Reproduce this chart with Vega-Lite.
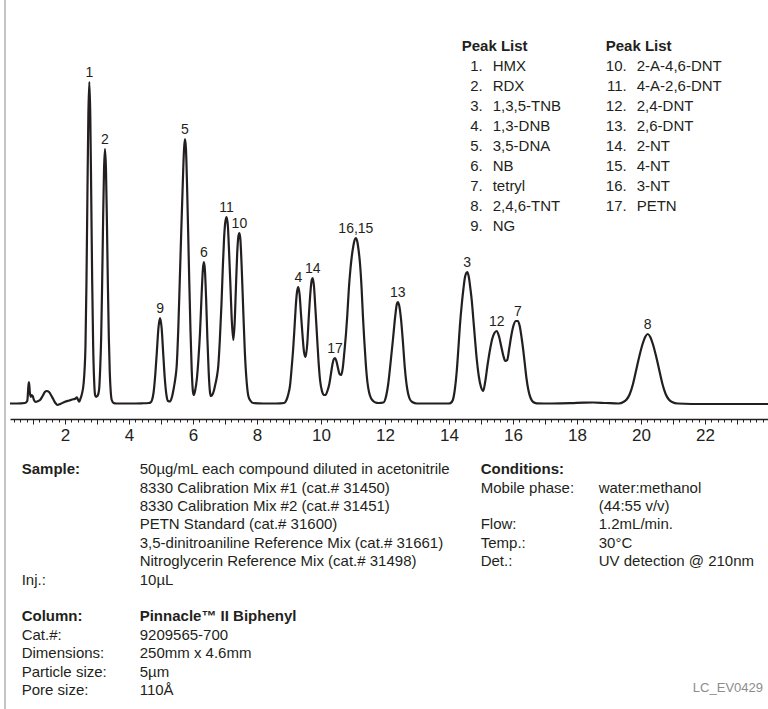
{
  "$schema": "https://vega.github.io/schema/vega-lite/v6.json",
  "autosize": "none",
  "width": 758,
  "height": 709,
  "padding": {"left": 10, "top": 0, "right": 0, "bottom": 0},
  "background": "white",
  "config": {
    "view": {"stroke": null},
    "text": {"font": "Liberation Sans, Arial, sans-serif", "color": "#231f20"}
  },
  "datasets": {
    "trace": [
      {"t":0.28,"v":0.5},{"t":0.5,"v":0.5},{"t":0.75,"v":1},{"t":0.82,"v":3},{"t":0.86,"v":19},{"t":0.875,"v":22},{"t":0.9,"v":12},{"t":0.93,"v":7},{"t":0.96,"v":9},{"t":0.99,"v":8},{"t":1.03,"v":4},{"t":1.09,"v":2},{"t":1.16,"v":3},{"t":1.22,"v":4},{"t":1.3,"v":8},{"t":1.37,"v":12},{"t":1.43,"v":13},{"t":1.5,"v":12},{"t":1.56,"v":9},{"t":1.63,"v":5},{"t":1.7,"v":1},{"t":1.76,"v":-1},{"t":1.85,"v":0},{"t":2.0,"v":2.3},{"t":2.13,"v":3.5},{"t":2.26,"v":4.7},{"t":2.33,"v":5.5},{"t":2.37,"v":6.7},{"t":2.41,"v":4},{"t":2.44,"v":2.3},{"t":2.48,"v":5},{"t":2.52,"v":9},{"t":2.58,"v":20},{"t":2.64,"v":58},{"t":2.67,"v":120},{"t":2.7,"v":207},{"t":2.73,"v":289},{"t":2.76,"v":322},{"t":2.79,"v":289},{"t":2.82,"v":207},{"t":2.85,"v":122},{"t":2.88,"v":58},{"t":2.91,"v":24},{"t":2.94,"v":9},{"t":2.97,"v":7},{"t":3.01,"v":8},{"t":3.04,"v":10},{"t":3.07,"v":16},{"t":3.1,"v":36},{"t":3.13,"v":66},{"t":3.16,"v":119},{"t":3.19,"v":182},{"t":3.22,"v":235},{"t":3.25,"v":255},{"t":3.28,"v":235},{"t":3.31,"v":182},{"t":3.34,"v":119},{"t":3.37,"v":66},{"t":3.4,"v":31},{"t":3.43,"v":12},{"t":3.46,"v":4},{"t":3.52,"v":1},{"t":3.6,"v":0.5},{"t":4.0,"v":0.5},{"t":4.4,"v":0.7},{"t":4.62,"v":1},{"t":4.67,"v":1.5},{"t":4.72,"v":4},{"t":4.77,"v":12},{"t":4.82,"v":29},{"t":4.87,"v":52},{"t":4.92,"v":76},{"t":4.97,"v":86},{"t":5.02,"v":76},{"t":5.07,"v":50},{"t":5.12,"v":25},{"t":5.17,"v":9},{"t":5.22,"v":3},{"t":5.28,"v":2.5},{"t":5.35,"v":8},{"t":5.4,"v":16},{"t":5.45,"v":26},{"t":5.49,"v":38},{"t":5.54,"v":75},{"t":5.59,"v":127},{"t":5.64,"v":180},{"t":5.68,"v":220},{"t":5.72,"v":255},{"t":5.75,"v":265},{"t":5.78,"v":255},{"t":5.82,"v":211},{"t":5.85,"v":170},{"t":5.88,"v":127},{"t":5.92,"v":75},{"t":5.96,"v":34},{"t":6.0,"v":12},{"t":6.03,"v":9},{"t":6.07,"v":14},{"t":6.12,"v":25},{"t":6.17,"v":45},{"t":6.22,"v":72},{"t":6.27,"v":110},{"t":6.31,"v":135},{"t":6.34,"v":142},{"t":6.37,"v":135},{"t":6.41,"v":105},{"t":6.45,"v":65},{"t":6.49,"v":32},{"t":6.53,"v":12},{"t":6.56,"v":8},{"t":6.6,"v":9},{"t":6.65,"v":13},{"t":6.7,"v":20},{"t":6.75,"v":28},{"t":6.79,"v":38},{"t":6.84,"v":65},{"t":6.89,"v":100},{"t":6.93,"v":135},{"t":6.97,"v":165},{"t":7.01,"v":182},{"t":7.05,"v":187},{"t":7.09,"v":178},{"t":7.13,"v":150},{"t":7.17,"v":118},{"t":7.21,"v":85},{"t":7.26,"v":64},{"t":7.3,"v":80},{"t":7.34,"v":115},{"t":7.38,"v":150},{"t":7.42,"v":168},{"t":7.45,"v":171},{"t":7.48,"v":165},{"t":7.52,"v":138},{"t":7.57,"v":94},{"t":7.62,"v":52},{"t":7.68,"v":21},{"t":7.73,"v":8},{"t":7.8,"v":3},{"t":7.88,"v":1},{"t":8.2,"v":0.5},{"t":8.6,"v":0.5},{"t":8.85,"v":1},{"t":8.92,"v":4},{"t":8.98,"v":10},{"t":9.03,"v":18},{"t":9.08,"v":35},{"t":9.13,"v":55},{"t":9.17,"v":75},{"t":9.21,"v":97},{"t":9.25,"v":112},{"t":9.29,"v":117},{"t":9.33,"v":110},{"t":9.37,"v":92},{"t":9.42,"v":70},{"t":9.47,"v":52},{"t":9.52,"v":47},{"t":9.57,"v":60},{"t":9.62,"v":88},{"t":9.67,"v":112},{"t":9.71,"v":124},{"t":9.74,"v":126},{"t":9.78,"v":118},{"t":9.82,"v":98},{"t":9.87,"v":71},{"t":9.92,"v":44},{"t":9.97,"v":24},{"t":10.03,"v":13},{"t":10.09,"v":9},{"t":10.14,"v":9},{"t":10.2,"v":13},{"t":10.26,"v":20},{"t":10.31,"v":30},{"t":10.36,"v":40},{"t":10.4,"v":45},{"t":10.44,"v":46},{"t":10.48,"v":43},{"t":10.53,"v":36},{"t":10.58,"v":30},{"t":10.63,"v":29},{"t":10.68,"v":36},{"t":10.73,"v":52},{"t":10.78,"v":70},{"t":10.82,"v":88},{"t":10.87,"v":115},{"t":10.92,"v":135},{"t":10.96,"v":147},{"t":11.01,"v":158},{"t":11.05,"v":164},{"t":11.09,"v":166},{"t":11.13,"v":163},{"t":11.17,"v":155},{"t":11.22,"v":140},{"t":11.27,"v":115},{"t":11.31,"v":88},{"t":11.35,"v":65},{"t":11.4,"v":40},{"t":11.45,"v":22},{"t":11.5,"v":12},{"t":11.56,"v":6},{"t":11.63,"v":3},{"t":11.7,"v":1.5},{"t":11.8,"v":1},{"t":11.95,"v":1.5},{"t":12.02,"v":6},{"t":12.1,"v":20},{"t":12.17,"v":40},{"t":12.25,"v":65},{"t":12.32,"v":88},{"t":12.37,"v":100},{"t":12.4,"v":102},{"t":12.44,"v":99},{"t":12.5,"v":85},{"t":12.56,"v":62},{"t":12.62,"v":36},{"t":12.69,"v":16},{"t":12.76,"v":6},{"t":12.85,"v":2},{"t":13.0,"v":0.5},{"t":13.5,"v":0.5},{"t":14.0,"v":0.5},{"t":14.05,"v":1},{"t":14.12,"v":4},{"t":14.18,"v":14},{"t":14.24,"v":32},{"t":14.29,"v":54},{"t":14.34,"v":78},{"t":14.4,"v":100},{"t":14.45,"v":115},{"t":14.5,"v":127},{"t":14.54,"v":131},{"t":14.57,"v":132},{"t":14.62,"v":127},{"t":14.67,"v":115},{"t":14.71,"v":104},{"t":14.76,"v":85},{"t":14.82,"v":62},{"t":14.87,"v":44},{"t":14.93,"v":28},{"t":15.0,"v":17},{"t":15.07,"v":13},{"t":15.13,"v":22},{"t":15.2,"v":38},{"t":15.28,"v":54},{"t":15.35,"v":65},{"t":15.42,"v":71},{"t":15.49,"v":73},{"t":15.56,"v":68},{"t":15.63,"v":58},{"t":15.7,"v":48},{"t":15.76,"v":43},{"t":15.82,"v":44},{"t":15.88,"v":55},{"t":15.95,"v":69},{"t":16.02,"v":79},{"t":16.09,"v":83},{"t":16.15,"v":83},{"t":16.21,"v":78},{"t":16.27,"v":66},{"t":16.32,"v":54},{"t":16.37,"v":40},{"t":16.42,"v":26},{"t":16.48,"v":14},{"t":16.55,"v":6},{"t":16.63,"v":2},{"t":16.74,"v":0.7},{"t":17.2,"v":0.5},{"t":17.8,"v":0.8},{"t":18.2,"v":1.3},{"t":18.5,"v":1.5},{"t":18.9,"v":1},{"t":19.3,"v":0.5},{"t":19.45,"v":2},{"t":19.55,"v":4.5},{"t":19.65,"v":10},{"t":19.75,"v":20},{"t":19.85,"v":34},{"t":19.95,"v":48},{"t":20.05,"v":60},{"t":20.13,"v":67},{"t":20.21,"v":70},{"t":20.29,"v":67},{"t":20.37,"v":60},{"t":20.47,"v":48},{"t":20.57,"v":34},{"t":20.67,"v":20},{"t":20.77,"v":10},{"t":20.87,"v":4.5},{"t":20.97,"v":2},{"t":21.15,"v":0.5},{"t":22.0,"v":0},{"t":23.0,"v":0},{"t":23.97,"v":0}
    ],
    "peaks": [
      {"peak":"1","t":2.76,"v":322},{"peak":"2","t":3.25,"v":255},{"peak":"9","t":4.97,"v":86},{"peak":"5","t":5.75,"v":265},{"peak":"6","t":6.34,"v":142},{"peak":"11","t":7.05,"v":187},{"peak":"10","t":7.45,"v":171},{"peak":"4","t":9.29,"v":117},{"peak":"14","t":9.74,"v":126},{"peak":"17","t":10.44,"v":46},{"peak":"16,15","t":11.09,"v":166},{"peak":"13","t":12.4,"v":102},{"peak":"3","t":14.57,"v":132},{"peak":"12","t":15.49,"v":73},{"peak":"7","t":16.15,"v":83},{"peak":"8","t":20.21,"v":70}
    ],
    "peakListTitles": [
      {"col":0,"row":0,"title":"Peak List"},{"col":1,"row":0,"title":"Peak List"}
    ],
    "peakList": [
      {"id":"1.","name":"HMX","col":0,"row":1},
      {"id":"2.","name":"RDX","col":0,"row":2},
      {"id":"3.","name":"1,3,5-TNB","col":0,"row":3},
      {"id":"4.","name":"1,3-DNB","col":0,"row":4},
      {"id":"5.","name":"3,5-DNA","col":0,"row":5},
      {"id":"6.","name":"NB","col":0,"row":6},
      {"id":"7.","name":"tetryl","col":0,"row":7},
      {"id":"8.","name":"2,4,6-TNT","col":0,"row":8},
      {"id":"9.","name":"NG","col":0,"row":9},
      {"id":"10.","name":"2-A-4,6-DNT","col":1,"row":1},
      {"id":"11.","name":"4-A-2,6-DNT","col":1,"row":2},
      {"id":"12.","name":"2,4-DNT","col":1,"row":3},
      {"id":"13.","name":"2,6-DNT","col":1,"row":4},
      {"id":"14.","name":"2-NT","col":1,"row":5},
      {"id":"15.","name":"4-NT","col":1,"row":6},
      {"id":"16.","name":"3-NT","col":1,"row":7},
      {"id":"17.","name":"PETN","col":1,"row":8}
    ],
    "info": [
      {"block":0,"row":0,"part":"label","heading":true,"text":"Sample:"},
      {"block":0,"row":0,"part":"value","heading":false,"text":"50µg/mL each compound diluted in acetonitrile"},
      {"block":0,"row":1,"part":"value","heading":false,"text":"8330 Calibration Mix #1 (cat.# 31450)"},
      {"block":0,"row":2,"part":"value","heading":false,"text":"8330 Calibration Mix #2 (cat.# 31451)"},
      {"block":0,"row":3,"part":"value","heading":false,"text":"PETN Standard (cat.# 31600)"},
      {"block":0,"row":4,"part":"value","heading":false,"text":"3,5-dinitroaniline Reference Mix (cat.# 31661)"},
      {"block":0,"row":5,"part":"value","heading":false,"text":"Nitroglycerin Reference Mix (cat.# 31498)"},
      {"block":0,"row":6,"part":"label","heading":false,"text":"Inj.:"},
      {"block":0,"row":6,"part":"value","heading":false,"text":"10µL"},
      {"block":0,"row":8,"part":"label","heading":true,"text":"Column:"},
      {"block":0,"row":8,"part":"value","heading":true,"text":"Pinnacle™ II Biphenyl"},
      {"block":0,"row":9,"part":"label","heading":false,"text":"Cat.#:"},
      {"block":0,"row":9,"part":"value","heading":false,"text":"9209565-700"},
      {"block":0,"row":10,"part":"label","heading":false,"text":"Dimensions:"},
      {"block":0,"row":10,"part":"value","heading":false,"text":"250mm x 4.6mm"},
      {"block":0,"row":11,"part":"label","heading":false,"text":"Particle size:"},
      {"block":0,"row":11,"part":"value","heading":false,"text":"5µm"},
      {"block":0,"row":12,"part":"label","heading":false,"text":"Pore size:"},
      {"block":0,"row":12,"part":"value","heading":false,"text":"110Å"},
      {"block":1,"row":0,"part":"label","heading":true,"text":"Conditions:"},
      {"block":1,"row":1,"part":"label","heading":false,"text":"Mobile phase:"},
      {"block":1,"row":1,"part":"value","heading":false,"text":"water:methanol"},
      {"block":1,"row":2,"part":"value","heading":false,"text":"(44:55 v/v)"},
      {"block":1,"row":3,"part":"label","heading":false,"text":"Flow:"},
      {"block":1,"row":3,"part":"value","heading":false,"text":"1.2mL/min."},
      {"block":1,"row":4,"part":"label","heading":false,"text":"Temp.:"},
      {"block":1,"row":4,"part":"value","heading":false,"text":"30°C"},
      {"block":1,"row":5,"part":"label","heading":false,"text":"Det.:"},
      {"block":1,"row":5,"part":"value","heading":false,"text":"UV detection @ 210nm"}
    ],
    "code": [{"code":"LC_EV0429"}]
  },
  "layer": [
    {
      "layer": [
        {
          "data": {"name": "trace"},
          "mark": {"type": "line", "interpolate": "monotone", "color": "#231f20", "strokeWidth": 2.2},
          "encoding": {
            "x": {
              "field": "t", "type": "quantitative",
              "scale": {"domain": [0.28125, 23.96875], "nice": false, "zero": false},
              "axis": {
                "title": null, "grid": false, "offset": -290, "orient": "bottom",
                "tickCount": 118,
                "labelExpr": "datum.value % 2 === 0 ? format(datum.value, 'd') : ''",
                "tickSize": {"condition": {"test": "datum.value % 1 === 0", "value": 5}, "value": 3},
                "tickColor": "#231f20", "tickWidth": 1,
                "domainColor": "#231f20", "domainWidth": 1.6,
                "labelFont": "Liberation Sans, Arial, sans-serif",
                "labelFontSize": 17, "labelColor": "#231f20", "labelPadding": 3,
                "labelOverlap": false, "labelFlush": false, "labelBound": false
              }
            },
            "y": {
              "field": "v", "type": "quantitative",
              "scale": {"domain": [-305, 404], "nice": false, "zero": false},
              "axis": null
            }
          }
        },
        {
          "data": {"name": "peaks"},
          "mark": {"type": "text", "fontSize": 14, "baseline": "alphabetic", "align": "center", "dy": -5},
          "encoding": {
            "x": {"field": "t", "type": "quantitative"},
            "y": {"field": "v", "type": "quantitative"},
            "text": {"field": "peak"}
          }
        },
        {
          "data": {"values": [{"edge": "frame"}]},
          "mark": {"type": "rule", "color": "#b0b0b0", "strokeWidth": 1.5},
          "encoding": {"x": {"datum": 0.125, "type": "quantitative"}}
        }
      ]
    },
    {
      "layer": [
        {
          "data": {"name": "peakListTitles"},
          "mark": {"type": "text", "fontSize": 15, "fontWeight": "bold", "align": "left", "baseline": "middle", "dx": -31},
          "encoding": {
            "x": {"field": "col", "type": "quantitative", "scale": {"domain": [-3.3521, 1.9118], "nice": false, "zero": false}, "axis": null},
            "y": {"field": "row", "type": "quantitative", "scale": {"domain": [-2.3, 33.15], "reverse": true, "nice": false, "zero": false}, "axis": null},
            "text": {"field": "title"}
          }
        },
        {
          "data": {"name": "peakList"},
          "mark": {"type": "text", "fontSize": 15, "align": "right", "baseline": "middle", "dx": -10},
          "encoding": {
            "x": {"field": "col", "type": "quantitative"},
            "y": {"field": "row", "type": "quantitative"},
            "text": {"field": "id"}
          }
        },
        {
          "data": {"name": "peakList"},
          "mark": {"type": "text", "fontSize": 15, "align": "left", "baseline": "middle"},
          "encoding": {
            "x": {"field": "col", "type": "quantitative"},
            "y": {"field": "row", "type": "quantitative"},
            "text": {"field": "name"}
          }
        }
      ]
    },
    {
      "data": {"name": "info"},
      "layer": [
        {
          "transform": [{"filter": "datum.part === 'label' && !datum.heading"}],
          "mark": {"type": "text", "fontSize": 15, "align": "left", "baseline": "middle"},
          "encoding": {
            "x": {"field": "block", "type": "quantitative", "scale": {"domain": [-0.02549, 1.62593], "nice": false, "zero": false}, "axis": null},
            "y": {"field": "row", "type": "quantitative", "scale": {"domain": [-25.5054, 13.0272], "reverse": true, "nice": false, "zero": false}, "axis": null},
            "text": {"field": "text"}
          }
        },
        {
          "transform": [{"filter": "datum.part === 'label' && datum.heading"}],
          "mark": {"type": "text", "fontSize": 15, "fontWeight": "bold", "align": "left", "baseline": "middle"},
          "encoding": {
            "x": {"field": "block", "type": "quantitative"},
            "y": {"field": "row", "type": "quantitative"},
            "text": {"field": "text"}
          }
        },
        {
          "transform": [{"filter": "datum.part === 'value' && !datum.heading"}],
          "mark": {"type": "text", "fontSize": 15, "align": "left", "baseline": "middle", "dx": 118},
          "encoding": {
            "x": {"field": "block", "type": "quantitative"},
            "y": {"field": "row", "type": "quantitative"},
            "text": {"field": "text"}
          }
        },
        {
          "transform": [{"filter": "datum.part === 'value' && datum.heading"}],
          "mark": {"type": "text", "fontSize": 15, "fontWeight": "bold", "align": "left", "baseline": "middle", "dx": 118},
          "encoding": {
            "x": {"field": "block", "type": "quantitative"},
            "y": {"field": "row", "type": "quantitative"},
            "text": {"field": "text"}
          }
        },
        {
          "data": {"name": "code"},
          "mark": {"type": "text", "fontSize": 13, "align": "right", "baseline": "middle", "color": "#8c8c8c"},
          "encoding": {
            "x": {"datum": 1.615, "type": "quantitative"},
            "y": {"datum": 11.9, "type": "quantitative"},
            "text": {"field": "code"}
          }
        }
      ]
    }
  ],
  "resolve": {"scale": {"x": "independent", "y": "independent"}, "axis": {"x": "independent", "y": "independent"}}
}
